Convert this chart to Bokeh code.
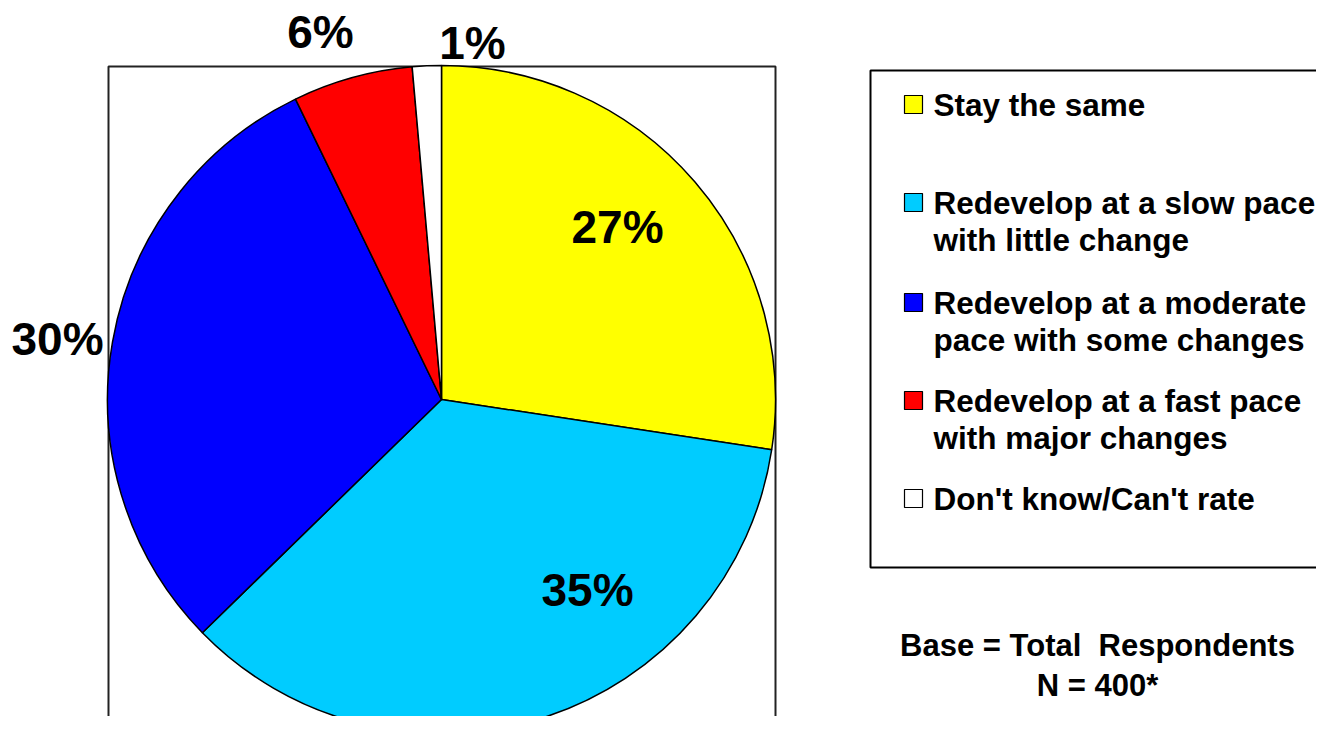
import math
from bokeh.plotting import figure
from bokeh.models import Range1d
from bokeh.core.properties import value
from bokeh.embed import file_html
from bokeh.resources import INLINE

# ---- data ----
categories = [
    "Stay the same",
    "Redevelop at a slow pace\nwith little change",
    "Redevelop at a moderate\npace with some changes",
    "Redevelop at a fast pace\nwith major changes",
    "Don't know/Can't rate",
]
shares = [27.4, 35.3, 30.1, 5.8, 1.4]
colors = ["#FFFF00", "#00CCFF", "#0000FF", "#FF0000", "#FFFFFF"]
base_lines = ["Base = Total\u00a0 Respondents", "N = 400*"]

# ---- layout (picture-pixel style coordinates; y measured from top) ----
W, H = 1316, 716
FONT = value("Liberation Sans")

def Y(sy):
    return 732 - sy

cx, cy, R = 441, 399, 334
label_pos = [(617, 226), (587, 589), (57, 338), (320, 31), (472, 42)]
legend_rows = [104, 202, 302, 400, 498]
line_gap = 37

p = figure(width=W, height=H, output_backend="svg", toolbar_location=None,
           x_range=Range1d(0, W), y_range=Range1d(732 - H, 732),
           min_border=0)
p.axis.visible = False
p.grid.visible = False
p.outline_line_color = None
p.background_fill_color = "white"

# plot-area frame
p.quad(left=[108], right=[775], top=[Y(66)], bottom=[Y(760)],
       fill_color=None, line_color="#222222", line_width=2)

# wedges, clockwise from 12 o'clock
total = sum(shares)
cum = 0.0
starts, ends = [], []
for s in shares:
    a0 = cum / total * 360.0
    cum += s
    a1 = cum / total * 360.0
    starts.append(math.radians(90 - a1))
    ends.append(math.radians(90 - a0))

p.wedge(x=[cx] * len(shares), y=[Y(cy)] * len(shares), radius=R,
        start_angle=starts, end_angle=ends, fill_color=colors,
        line_color="black", line_width=1.5)

# percentage labels
labels = [f"{round(s)}%" for s in shares]
p.text(x=[lp[0] for lp in label_pos], y=[Y(lp[1]) for lp in label_pos], text=labels,
       text_font=FONT, text_font_style="bold", text_font_size="46px",
       text_align="center", text_baseline="middle", text_color="black")

# legend box
p.quad(left=[870], right=[1340], top=[Y(70)], bottom=[Y(567)],
       fill_color="white", line_color="black", line_width=2)

sq = 18
p.quad(left=[904] * 5, right=[904 + sq] * 5,
       top=[Y(r - sq / 2) for r in legend_rows],
       bottom=[Y(r + sq / 2) for r in legend_rows],
       fill_color=colors, line_color="black", line_width=1.2)

tx, ty, tt = [], [], []
for r, c in zip(legend_rows, categories):
    for i, line in enumerate(c.split("\n")):
        tx.append(933)
        ty.append(Y(r + i * line_gap))
        tt.append(line)
p.text(x=tx, y=ty, text=tt, text_font=FONT, text_font_style="bold",
       text_font_size="31.5px", text_align="left", text_baseline="middle",
       text_color="black")

# base note
p.text(x=[1097, 1097], y=[Y(645), Y(685)], text=base_lines, text_font=FONT,
       text_font_style="bold", text_font_size="31px", text_align="center",
       text_baseline="middle", text_color="black")

open("out.html", "w").write(file_html(p, INLINE))
